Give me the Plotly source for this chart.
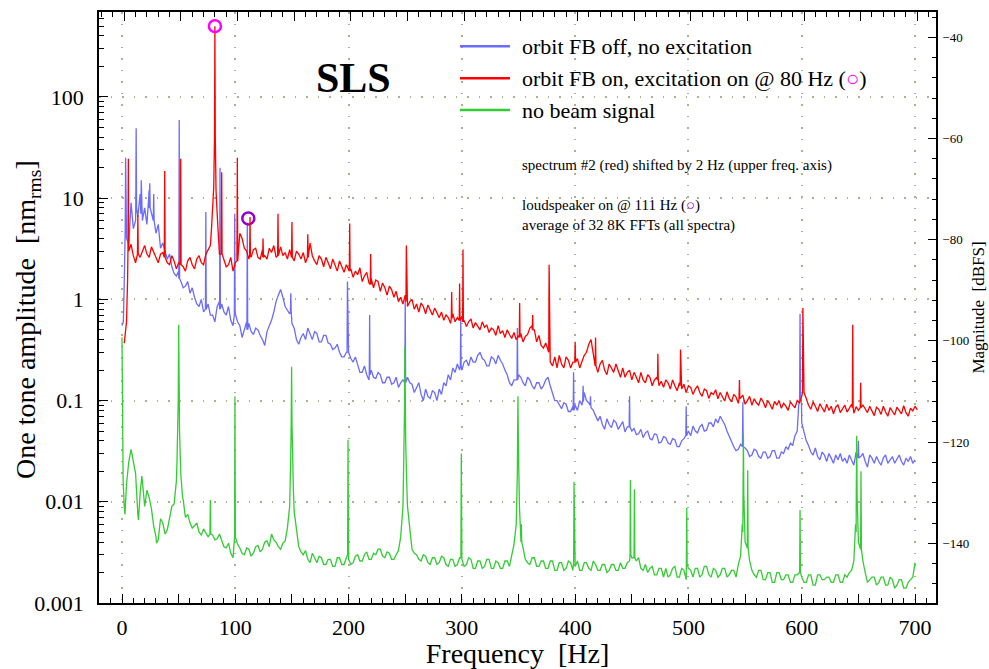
import numpy as np
import plotly.graph_objects as go

# ---------------- data ----------------
FREQ_STEP = 2
GRID_FREQ = np.arange(0, 701, FREQ_STEP)          # 0, 2, ..., 700 Hz (351 bins)

# orbit FB off, no excitation  (lower frequency axis)
BLUE_BASE = [
    0.55, 1.5, 4.0, 3.5, 9.0, 5.0, 6.0, 6.5, 11.0, 6.0, 8.0, 5.5, 12.0, 7.0, 7.0, 4.5, 5.5, 3.2, 3.6, 3.0,
    2.5, 2.8, 2.1, 1.8, 1.7, 1.9, 1.5, 1.3, 1.35, 1.5, 1.15, 1.3, 1.05, 0.9, 0.85, 1.0, 0.75, 0.62, 0.9, 0.7,
    0.7, 0.6, 0.85, 0.95, 0.9, 0.75, 0.7, 0.85, 0.62, 0.55, 0.72, 0.6, 0.55, 0.42, 0.5, 0.6, 0.58, 0.48, 0.45, 0.52,
    0.5, 0.44, 0.4, 0.35, 0.48, 0.55, 0.62, 0.75, 0.95, 1.1, 1.25, 1.05, 0.85, 0.78, 0.72, 0.58, 0.52, 0.4, 0.36, 0.42,
    0.46, 0.4, 0.52, 0.45, 0.4, 0.48, 0.46, 0.38, 0.38, 0.44, 0.44, 0.37, 0.36, 0.32, 0.33, 0.36, 0.3, 0.27, 0.27, 0.3,
    0.3, 0.26, 0.24, 0.27, 0.22, 0.19, 0.19, 0.22, 0.18, 0.16, 0.2, 0.17, 0.165, 0.19, 0.18, 0.15, 0.15, 0.17, 0.17, 0.145,
    0.15, 0.17, 0.135, 0.15, 0.16, 0.14, 0.17, 0.15, 0.145, 0.12, 0.135, 0.15, 0.115, 0.1, 0.13, 0.11, 0.105, 0.125, 0.12, 0.1,
    0.13, 0.115, 0.15, 0.14, 0.18, 0.16, 0.21, 0.19, 0.23, 0.2, 0.2, 0.24, 0.25, 0.22, 0.27, 0.24, 0.24, 0.28, 0.3, 0.26,
    0.25, 0.22, 0.22, 0.27, 0.26, 0.23, 0.28, 0.25, 0.23, 0.2, 0.18, 0.15, 0.14, 0.16, 0.16, 0.18, 0.17, 0.15, 0.14, 0.17,
    0.16, 0.14, 0.13, 0.15, 0.15, 0.13, 0.14, 0.16, 0.17, 0.14, 0.12, 0.1, 0.1, 0.09, 0.083, 0.095, 0.092, 0.078, 0.078, 0.088,
    0.09, 0.08, 0.1, 0.09, 0.12, 0.1, 0.095, 0.085, 0.08, 0.07, 0.063, 0.07, 0.058, 0.052, 0.066, 0.058, 0.054, 0.064, 0.061, 0.052,
    0.056, 0.062, 0.049, 0.055, 0.062, 0.05, 0.053, 0.046, 0.047, 0.052, 0.043, 0.048, 0.05, 0.042, 0.041, 0.047, 0.046, 0.038, 0.039, 0.044,
    0.043, 0.038, 0.037, 0.042, 0.041, 0.035, 0.035, 0.04, 0.042, 0.048, 0.05, 0.045, 0.056, 0.05, 0.048, 0.055, 0.058, 0.05, 0.051, 0.06,
    0.06, 0.055, 0.066, 0.06, 0.07, 0.064, 0.058, 0.05, 0.044, 0.038, 0.035, 0.032, 0.033, 0.037, 0.04, 0.034, 0.032, 0.028, 0.029, 0.033,
    0.032, 0.028, 0.027, 0.031, 0.031, 0.027, 0.028, 0.032, 0.032, 0.027, 0.027, 0.031, 0.03, 0.035, 0.033, 0.038, 0.036, 0.045, 0.05, 0.1,
    0.06, 0.05, 0.04, 0.036, 0.031, 0.029, 0.034, 0.028, 0.026, 0.031, 0.029, 0.025, 0.03, 0.027, 0.024, 0.029, 0.026, 0.03, 0.025, 0.027,
    0.024, 0.029, 0.026, 0.023, 0.031, 0.027, 0.028, 0.03, 0.025, 0.022, 0.029, 0.027, 0.024, 0.028, 0.025, 0.023, 0.027, 0.029, 0.024, 0.026,
    0.028, 0.024, 0.026, 0.029, 0.025, 0.023, 0.027, 0.025, 0.028, 0.024, 0.026,
]
BLUE_EXTRA = [(1.2, 0.6), (597.3, 0.09), (599.8, 0.09), (601.5, 0.05)]
# (frequency, peak value, value at the foot of the line)
BLUE_SPIKES = [
    (3.2, 25, 5), (12.5, 49, 8), (17, 15, 7), (24.5, 14, 8), (28, 11, 6),
    (50.5, 59, 1.6), (74, 7.3, 0.8), (86.5, 20, 0.8), (99.5, 7.0, 0.7),
    (110.6, 5.7, 0.5), (149, 1.15, 0.75), (199, 1.5, 0.3), (218.6, 0.7, 0.18),
    (250, 1.0, 0.15), (299, 0.62, 0.22), (349, 0.52, 0.16), (398.6, 0.19, 0.08),
    (407, 0.14, 0.1), (413.5, 0.11, 0.09), (448, 0.11, 0.055), (498, 0.088, 0.045),
    (548, 0.097, 0.035), (598.5, 0.72, 0.12), (650, 0.04, 0.027),
]

# orbit FB on, excitation on @ 80 Hz  (upper frequency axis, shifted by 2 Hz)
RED_BASE = [
    0.37, 0.6, 3.0, 3.5, 2.7, 2.3, 3.2, 2.6, 3.0, 3.4, 2.8, 2.6, 3.3, 2.9, 2.5, 2.3, 2.8, 2.9, 2.4, 2.3,
    2.2, 2.7, 2.4, 2.0, 2.3, 2.5, 2.1, 1.9, 2.4, 2.6, 2.2, 2.0, 2.5, 2.7, 2.3, 2.2, 2.8, 3.1, 3.4, 7.5,
    40, 7.0, 2.8, 3.2, 2.4, 2.1, 2.2, 2.6, 1.9, 2.3, 2.6, 4.5, 4.0, 3.2, 3.0, 2.5, 2.6, 3.1, 3.2, 2.6,
    2.5, 3.1, 2.7, 2.5, 3.2, 2.9, 3.4, 2.6, 3.0, 3.3, 2.7, 2.9, 2.5, 3.1, 2.7, 2.4, 3.0, 2.8, 2.5, 2.9,
    2.3, 2.8, 3.6, 2.7, 2.4, 2.2, 2.7, 2.5, 2.1, 2.6, 2.3, 2.0, 2.5, 2.2, 1.9, 2.4, 2.1, 1.85, 2.2, 1.95,
    2.0, 1.65, 1.9, 1.75, 2.05, 1.5, 1.7, 1.85, 1.45, 1.6, 1.3, 1.55, 1.5, 1.2, 1.45, 1.3, 1.1, 1.35, 1.25, 1.05,
    1.2, 0.95, 1.05, 0.9, 1.1, 0.85, 0.95, 1.0, 0.8, 0.9, 0.75, 0.92, 0.85, 0.72, 0.88, 0.78, 0.7, 0.82, 0.74, 0.66,
    0.75, 0.62, 0.7, 0.66, 0.58, 0.72, 0.6, 0.66, 0.56, 0.68, 0.62, 0.54, 0.6, 0.64, 0.52, 0.59, 0.55, 0.5, 0.6, 0.53,
    0.56, 0.47, 0.52, 0.5, 0.44, 0.55, 0.46, 0.49, 0.42, 0.5, 0.45, 0.41, 0.47, 0.4, 0.44, 0.46, 0.38, 0.43, 0.45, 0.52,
    0.55, 0.5, 0.38, 0.44, 0.35, 0.33, 0.37, 0.32, 0.24, 0.22, 0.27, 0.21, 0.28, 0.23, 0.21, 0.27, 0.25, 0.21, 0.24, 0.27,
    0.26, 0.21, 0.24, 0.28, 0.3, 0.36, 0.4, 0.3, 0.24, 0.19, 0.23, 0.25, 0.2, 0.18, 0.23, 0.21, 0.19, 0.23, 0.2, 0.17,
    0.21, 0.17, 0.19, 0.2, 0.16, 0.19, 0.17, 0.15, 0.19, 0.16, 0.15, 0.18, 0.17, 0.14, 0.16, 0.17, 0.14, 0.155, 0.135, 0.16,
    0.15, 0.13, 0.16, 0.14, 0.125, 0.15, 0.13, 0.145, 0.12, 0.14, 0.135, 0.115, 0.13, 0.14, 0.12, 0.11, 0.13, 0.125, 0.105, 0.12,
    0.115, 0.128, 0.104, 0.12, 0.11, 0.099, 0.122, 0.105, 0.097, 0.115, 0.108, 0.094, 0.106, 0.113, 0.092, 0.1, 0.11, 0.09, 0.104, 0.095,
    0.09, 0.106, 0.097, 0.085, 0.1, 0.092, 0.082, 0.098, 0.09, 0.1, 0.084, 0.094, 0.088, 0.08, 0.097, 0.09, 0.085, 0.1, 0.095, 0.11,
    0.12, 0.105, 0.09, 0.082, 0.097, 0.088, 0.078, 0.093, 0.085, 0.077, 0.092, 0.08, 0.088, 0.074, 0.086, 0.091, 0.076, 0.083, 0.09, 0.077,
    0.084, 0.092, 0.075, 0.087, 0.08, 0.072, 0.09, 0.083, 0.076, 0.088, 0.079, 0.071, 0.086, 0.082, 0.073, 0.088, 0.077, 0.07, 0.085, 0.079,
    0.072, 0.086, 0.08, 0.074, 0.089, 0.076, 0.07, 0.084, 0.079, 0.088, 0.081,
]
RED_EXTRA = [(2.9, 1.5), (77, 5.0), (79, 13), (81, 12), (83, 4.5)]
RED_SPIKES = [
    (3.6, 24.5, 3.0), (12, 6.8, 2.8), (35.7, 18.5, 2.6), (49.8, 24.5, 2.2),
    (80, 500, 40), (86, 18, 2.8), (99.8, 25, 2.4), (111, 6.5, 2.7),
    (122.5, 4.0, 2.6), (135.7, 7.0, 2.7), (148, 5.8, 2.6), (162, 4.4, 2.6),
    (199, 5.6, 1.9), (217.5, 2.8, 1.4), (249, 3.4, 0.95), (289, 1.18, 0.65),
    (296, 1.43, 0.62), (299, 3.1, 0.6), (349, 0.92, 0.42), (360.5, 0.7, 0.5),
    (375, 2.2, 0.3), (398, 0.38, 0.24), (416, 0.42, 0.22), (471, 0.29, 0.16),
    (491, 0.32, 0.14), (543, 0.16, 0.105), (599, 0.82, 0.12), (643, 0.56, 0.085),
    (650, 0.15, 0.085),
]

# no beam signal  (lower frequency axis)
GREEN_BASE = [
    0.42, 0.009, 0.015, 0.025, 0.033, 0.024, 0.019, 0.0075, 0.012, 0.016, 0.009, 0.013, 0.011, 0.0085, 0.0057, 0.0045, 0.0042, 0.0068, 0.0062, 0.0048,
    0.0053, 0.0068, 0.009, 0.0095, 0.016, 0.1, 0.018, 0.0105, 0.007, 0.0075, 0.0062, 0.0055, 0.0058, 0.0062, 0.005, 0.0047, 0.0054, 0.0049, 0.0045, 0.005,
    0.0047, 0.0042, 0.0043, 0.0048, 0.0041, 0.0036, 0.0035, 0.0039, 0.0031, 0.0028, 0.0045, 0.0038, 0.0035, 0.0031, 0.003, 0.0035, 0.0034, 0.0029, 0.0031, 0.0036,
    0.0037, 0.0032, 0.0034, 0.004, 0.0041, 0.0036, 0.0048, 0.0042, 0.004, 0.0036, 0.0034, 0.0039, 0.0041, 0.0055, 0.009, 0.06, 0.008, 0.0055, 0.0036, 0.0032,
    0.003, 0.0033, 0.0027, 0.0025, 0.0031, 0.0028, 0.0025, 0.0029, 0.0028, 0.0024, 0.0024, 0.0027, 0.0027, 0.0023, 0.0023, 0.0028, 0.0028, 0.0024, 0.0024, 0.0028,
    0.0027, 0.0024, 0.0025, 0.0029, 0.003, 0.0026, 0.0026, 0.003, 0.0032, 0.0027, 0.0027, 0.0031, 0.003, 0.0034, 0.0034, 0.0029, 0.0028, 0.0032, 0.0031, 0.0027,
    0.0027, 0.003, 0.0033, 0.0045, 0.009, 0.08, 0.009, 0.0055, 0.0034, 0.0031, 0.003, 0.0027, 0.0026, 0.003, 0.0029, 0.0025, 0.0024, 0.0028, 0.0028, 0.0024,
    0.0025, 0.0029, 0.0028, 0.0024, 0.0023, 0.0027, 0.0027, 0.0023, 0.0024, 0.0028, 0.0027, 0.0023, 0.0024, 0.0028, 0.0027, 0.0022, 0.0022, 0.0026, 0.0026, 0.0022,
    0.0023, 0.0027, 0.0027, 0.0022, 0.0022, 0.0026, 0.0025, 0.0022, 0.0022, 0.0026, 0.0026, 0.0023, 0.0031, 0.0038, 0.006, 0.03, 0.0045, 0.0035, 0.0027, 0.0025,
    0.0024, 0.0028, 0.0028, 0.0023, 0.0023, 0.0026, 0.0026, 0.0022, 0.0022, 0.0026, 0.0026, 0.0021, 0.0021, 0.0025, 0.0025, 0.0021, 0.0022, 0.0026, 0.0025, 0.0021,
    0.0023, 0.0026, 0.0021, 0.0021, 0.0025, 0.0025, 0.0022, 0.0021, 0.0026, 0.0024, 0.0021, 0.0021, 0.0024, 0.0024, 0.002, 0.0021, 0.0024, 0.0024, 0.0021, 0.0021,
    0.0025, 0.0022, 0.0022, 0.0025, 0.0026, 0.0028, 0.003, 0.0026, 0.0028, 0.0022, 0.0021, 0.0024, 0.002, 0.0022, 0.0023, 0.0019, 0.0019, 0.0022, 0.0022, 0.0018,
    0.0022, 0.0018, 0.0019, 0.0022, 0.0023, 0.0018, 0.0018, 0.0022, 0.0021, 0.0017, 0.0022, 0.0021, 0.0018, 0.0022, 0.0022, 0.0018, 0.0019, 0.0023, 0.0023, 0.0019,
    0.0018, 0.0022, 0.0021, 0.0018, 0.0019, 0.0022, 0.0022, 0.0018, 0.0019, 0.0021, 0.0021, 0.0018, 0.0024, 0.0029, 0.005, 0.004, 0.0035, 0.0026, 0.0021, 0.0019,
    0.0018, 0.0021, 0.0021, 0.0017, 0.0017, 0.002, 0.002, 0.0016, 0.0016, 0.002, 0.002, 0.0017, 0.0017, 0.0019, 0.0019, 0.0016, 0.0016, 0.0019, 0.0019, 0.002,
    0.0018, 0.0016, 0.0016, 0.0019, 0.0019, 0.0015, 0.0015, 0.0019, 0.0019, 0.0017, 0.0017, 0.0018, 0.0018, 0.0016, 0.0016, 0.0019, 0.0019, 0.0016, 0.0016, 0.0019,
    0.0018, 0.002, 0.0021, 0.0026, 0.005, 0.004, 0.0034, 0.0026, 0.002, 0.0016, 0.0017, 0.0018, 0.0018, 0.0015, 0.0016, 0.0018, 0.0018, 0.0015, 0.0015, 0.0018,
    0.0017, 0.0014, 0.0015, 0.0017, 0.0017, 0.0014, 0.0014, 0.0016, 0.0017, 0.0018, 0.0025,
]
GREEN_EXTRA = [
    (0.4, 0.03), (1.0, 0.016), (2.6, 0.0075), (14.5, 0.0066), (17.5, 0.018), (30.5, 0.0039),
    (48.5, 0.024), (49.3, 0.05), (50.8, 0.05), (51.5, 0.026), (53.5, 0.011),
    (148.4, 0.013), (149.0, 0.03), (150.4, 0.03), (151.2, 0.014),
    (248.4, 0.016), (249.0, 0.04), (250.4, 0.04), (251.2, 0.017),
    (348.5, 0.009), (349.0, 0.02), (350.0, 0.02), (350.8, 0.009),
    (547.5, 0.006), (549.3, 0.007), (647.5, 0.006), (649.3, 0.007),
]
GREEN_SPIKES = [
    (50, 0.56, 0.1), (78, 0.0104, 0.0048), (99.7, 0.11, 0.0045), (149.7, 0.216, 0.06),
    (199.5, 0.041, 0.003), (249.7, 0.34, 0.08), (299.5, 0.03, 0.0028), (349.5, 0.11, 0.04),
    (352.5, 0.006, 0.004), (399, 0.0158, 0.0026), (448.8, 0.0164, 0.003),
    (452.3, 0.0133, 0.0028), (498.5, 0.0087, 0.0024), (548.5, 0.047, 0.012),
    (552.3, 0.0205, 0.0035), (598.5, 0.0083, 0.002), (648.5, 0.045, 0.012),
    (652.3, 0.02, 0.0034),
]

# marked lines: (frequency, amplitude)
EXCITATION_MARK = (80, 500)      # on the upper (red) frequency axis
LOUDSPEAKER_MARK = (111.5, 6.3)  # on the lower frequency axis

LINE_HALF_WIDTH = 0.35  # Hz, half width of a narrow spectral line


def build(base, extra, spikes):
    pts = {}
    centers = [s[0] for s in spikes]
    for f, v in zip(GRID_FREQ, base):
        if centers and min(abs(f - c) for c in centers) < 0.5:
            continue
        pts[float(f)] = v
    for f, v in extra:
        pts[float(f)] = v
    for f, pk, b in spikes:
        pts[f - LINE_HALF_WIDTH] = b
        pts[float(f)] = pk
        pts[f + LINE_HALF_WIDTH] = b
    xs = sorted(pts)
    return xs, [pts[x] for x in xs]


bx, by = build(BLUE_BASE, BLUE_EXTRA, BLUE_SPIKES)
rx, ry = build(RED_BASE, RED_EXTRA, RED_SPIKES)
gx, gy = build(GREEN_BASE, GREEN_EXTRA, GREEN_SPIKES)

BLUE = "#6b6bff"
RED = "#ff0000"
GREEN = "#33cc33"
MAGENTA = "#ff00ff"
PURPLE = "#9400c8"
SERIF = "Liberation Serif, Times New Roman, serif"
GRID = "#b0b08a"

X_RANGE = [-20.3, 718.5]
SHIFT = 2.0
LOG_RANGE = [-3, 2.839]
DB_RANGE = [-151.8, -35.0]

fig = go.Figure()
fig.add_trace(go.Scatter(x=bx, y=by, mode="lines", name="orbit FB off, no excitation",
                         line=dict(color=BLUE, width=1.3), showlegend=False))
fig.add_trace(go.Scatter(x=gx, y=gy, mode="lines", name="no beam signal",
                         line=dict(color=GREEN, width=1.3), showlegend=False))
fig.add_trace(go.Scatter(x=rx, y=ry, mode="lines", name="orbit FB on, excitation on @ 80 Hz",
                         line=dict(color=RED, width=1.3), xaxis="x2", showlegend=False))
fig.add_trace(go.Scatter(x=[EXCITATION_MARK[0]], y=[EXCITATION_MARK[1]], mode="markers",
                         marker=dict(symbol="circle-open", size=12, color=MAGENTA,
                                     line=dict(width=2.5, color=MAGENTA)),
                         xaxis="x2", showlegend=False))
fig.add_trace(go.Scatter(x=[LOUDSPEAKER_MARK[0]], y=[LOUDSPEAKER_MARK[1]], mode="markers",
                         marker=dict(symbol="circle-open", size=12, color=PURPLE,
                                     line=dict(width=2.5, color=PURPLE)),
                         showlegend=False))
# carrier for the extra axes
fig.add_trace(go.Scatter(x=[], y=[], xaxis="x3", yaxis="y2", showlegend=False))

tick_font = dict(family=SERIF, size=22, color="black")

fig.update_layout(
    width=989, height=669,
    margin=dict(l=99, r=53, t=12, b=66),
    paper_bgcolor="white", plot_bgcolor="white",
    font=dict(family=SERIF, color="black"),
    xaxis=dict(
        range=X_RANGE, tick0=0, dtick=100, ticks="inside", ticklen=9, tickwidth=1,
        tickcolor="black", minor=dict(dtick=10, ticks="inside", ticklen=5, tickcolor="black"),
        showline=True, linecolor="black", linewidth=1.5, zeroline=False,
        showgrid=True, gridcolor=GRID, gridwidth=1.5, griddash="1.5px,10px",
        tickfont=tick_font, ticklabelstandoff=4, automargin=False,
        title=dict(text="Frequency  [Hz]", font=dict(family=SERIF, size=28), standoff=4),
    ),
    xaxis2=dict(
        overlaying="x", side="top", anchor="y",
        range=[X_RANGE[0] - SHIFT, X_RANGE[1] - SHIFT], tick0=0, dtick=50,
        ticks="inside", ticklen=9, tickcolor="black",
        minor=dict(dtick=10, ticks="inside", ticklen=5, tickcolor="black"),
        showticklabels=False, showgrid=False, zeroline=False,
        showline=True, linecolor="black", linewidth=1.5,
    ),
    xaxis3=dict(
        overlaying="x", side="bottom", anchor="y", range=X_RANGE, tick0=0, dtick=50,
        ticks="inside", ticklen=9, tickcolor="black", showticklabels=False,
        showgrid=False, zeroline=False, showline=False,
    ),
    yaxis=dict(
        type="log", range=LOG_RANGE, tick0=0, dtick=1, exponentformat="none",
        ticks="inside", ticklen=9, tickcolor="black",
        minor=dict(ticks="inside", ticklen=5, tickcolor="black", showgrid=False),
        showline=True, linecolor="black", linewidth=1.5, zeroline=False,
        showgrid=True, gridcolor=GRID, gridwidth=1.5, griddash="1.5px,10px",
        tickfont=tick_font, ticklabelstandoff=9, automargin=False,
    ),
    yaxis2=dict(
        overlaying="y", side="right", anchor="x", range=DB_RANGE, tick0=0, dtick=20,
        ticks="inside", ticklen=8, tickcolor="black",
        minor=dict(dtick=4, ticks="inside", ticklen=4, tickcolor="black"),
        showline=True, linecolor="black", linewidth=1.5, zeroline=False, showgrid=False,
        tickfont=dict(family=SERIF, size=13), ticklabelstandoff=2, automargin=False,
        title=dict(text="Magnitude  [dBFS]", font=dict(family=SERIF, size=17), standoff=4),
    ),
)

# left axis title
fig.add_annotation(xref="paper", yref="paper", x=-0.0848, y=0.479, textangle=-90,
                   text="One tone amplitude  [nm<sub>rms</sub>]", showarrow=False,
                   xanchor="center", yanchor="middle", font=dict(family=SERIF, size=28))

# legend drawn inside the plot area
legend_rows = [
    (0.942, BLUE, "orbit FB off, no excitation"),
    (0.888, RED, f"orbit FB on, excitation on @ 80 Hz (<span style='color:{MAGENTA}'><b>○</b></span>)"),
    (0.834, GREEN, "no beam signal"),
]
for yy, col, txt in legend_rows:
    fig.add_shape(type="line", xref="paper", yref="paper", x0=0.4313, x1=0.491, y0=yy, y1=yy,
                  line=dict(color=col, width=2.5))
    fig.add_annotation(xref="paper", yref="paper", x=0.503, y=yy, text=txt, showarrow=False,
                       xanchor="left", yanchor="middle", font=dict(family=SERIF, size=22))

fig.add_annotation(xref="paper", yref="paper", x=0.3035, y=0.888, text="<b>SLS</b>",
                   showarrow=False, xanchor="center", yanchor="middle",
                   font=dict(family=SERIF, size=42))

notes = [
    (0.741, "spectrum #2 (red) shifted by 2 Hz (upper freq. axis)"),
    (0.673, f"loudspeaker on @ 111 Hz (<span style='color:{PURPLE}'><b>○</b></span>)"),
    (0.639, "average of 32 8K FFTs (all spectra)"),
]
for yy, txt in notes:
    fig.add_annotation(xref="paper", yref="paper", x=0.503, y=yy, text=txt, showarrow=False,
                       xanchor="left", yanchor="middle", font=dict(family=SERIF, size=15))

fig.write_html("out.html", config={"displayModeBar": False},
               post_script="document.body.style.margin='0px';")
